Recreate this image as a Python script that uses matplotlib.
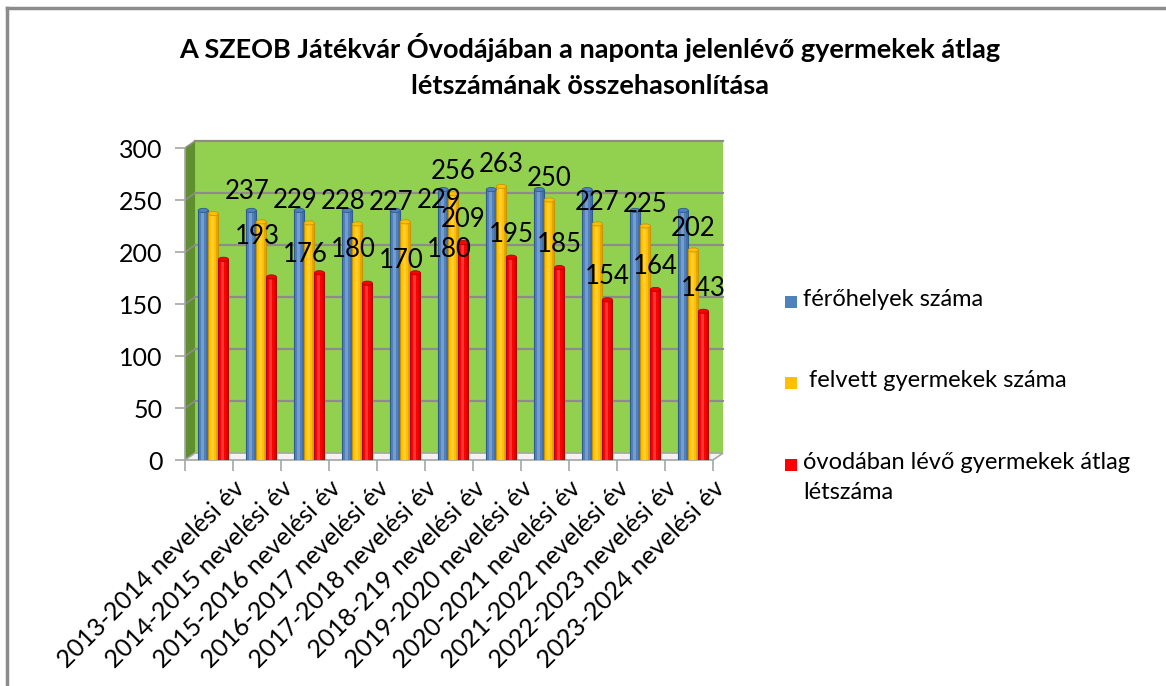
import numpy as np
import matplotlib
matplotlib.use('Agg')
import matplotlib.pyplot as plt
from matplotlib.patches import Rectangle, Polygon, Ellipse
from matplotlib.lines import Line2D
from matplotlib.transforms import ScaledTranslation

plt.rcParams['font.family'] = ['Lato', 'DejaVu Sans']

categories = ['2013-2014 nevelési év', '2014-2015 nevelési év', '2015-2016 nevelési év',
              '2016-2017 nevelési év', '2017-2018 nevelési év', '2018-219 nevelési év',
              '2019-2020 nevelési év', '2020-2021 nevelési év', '2021-2022 nevelési év',
              '2022-2023 nevelési év', '2023-2024 nevelési év']
ferohelyek = [240, 240, 240, 240, 240, 260, 260, 260, 260, 240, 240]
felvett = [237, 229, 228, 227, 229, 256, 263, 250, 227, 225, 202]
atlag = [193, 176, 180, 170, 180, 209, 195, 185, 154, 164, 143]
series_names = ['férőhelyek száma', ' felvett gyermekek száma',
                'óvodában lévő gyermekek átlag\nlétszáma']
yticks = [0, 50, 100, 150, 200, 250, 300]

title = 'A SZEOB Játékvár Óvodájában a naponta jelenlévő gyermekek átlag\nlétszámának összehasonlítása'

colors = ['#4F81BD', '#FFC000', '#FF0000']
edges = ['#2F5A8C', '#C99400', '#B00000']
offsets = [-0.12, 0.09, 0.30]
bw = 0.21
# excel put the labels of the first five groups further right
label_shift = [0.7] * 5 + [0.0] * 6

W, H = 1166, 686
fig = plt.figure(figsize=(W / 100, H / 100), dpi=100)
ax = fig.add_axes([185 / W, 1 - 460 / H, 528 / W, 312 / H])
ax.set_facecolor('none')
ax.set_xlim(-0.5, 10.5)
ax.set_ylim(0, 300)

# fake 3d box: back wall, left wall, floor
ox, oy = 0.21, 6.7
n = len(categories)
ax.add_patch(Rectangle((-0.5 + ox, oy), n, 300, facecolor='#92D050', edgecolor='none',
                       zorder=0, clip_on=False))
ax.add_patch(Polygon([(-0.5, 0), (-0.5, 300), (-0.5 + ox, 300 + oy), (-0.5 + ox, oy)],
                     closed=True, facecolor='#5F8F2E', edgecolor='none', zorder=0.5, clip_on=False))
ax.add_patch(Polygon([(-0.5, 0), (n - 0.5, 0), (n - 0.5 + ox, oy), (-0.5 + ox, oy)],
                     closed=True, facecolor='#F2F2F2', edgecolor='#A6A6A6', lw=1.2,
                     zorder=0.5, clip_on=False))
for v in yticks[1:]:
    ax.plot([-0.5 + ox, n - 0.5 + ox], [v + oy, v + oy], color='#8C8C8C', lw=1.6,
            zorder=0.6, clip_on=False)
    ax.plot([-0.5, -0.5 + ox], [v, v + oy], color='#8C8C8C', lw=1.2, zorder=0.6, clip_on=False)

x = np.arange(n)
for k, vals in enumerate([ferohelyek, felvett, atlag]):
    xs = x + offsets[k]
    ax.bar(xs, vals, width=bw, color=colors[k], edgecolor=edges[k], lw=0.8, zorder=2)
    # cylinder look
    ax.bar(xs - bw * 0.12, vals, width=bw * 0.3, color='white', alpha=0.22, lw=0, zorder=2.1)
    ax.bar(xs + bw * 0.36, vals, width=bw * 0.22, color='black', alpha=0.12, lw=0, zorder=2.1)
    for xi, v in zip(xs, vals):
        ax.add_patch(Ellipse((xi, v), bw, 4, facecolor=colors[k], edgecolor=edges[k],
                             lw=0.6, zorder=2.2, clip_on=False))

for i in range(n):
    ax.text(x[i] + offsets[1] + label_shift[i], felvett[i] + 21, str(felvett[i]),
            ha='center', va='center', fontsize=18.5, zorder=3)
    ax.text(x[i] + offsets[2] + label_shift[i], atlag[i] + 22, str(atlag[i]),
            ha='center', va='center', fontsize=18.5, zorder=3)

for s in ['top', 'right', 'bottom']:
    ax.spines[s].set_visible(False)
ax.spines['left'].set_color('#A6A6A6')
ax.spines['left'].set_linewidth(1.2)

ax.set_yticks(yticks)
ax.tick_params(axis='y', length=7, width=1.2, color='#A6A6A6', labelsize=18, pad=9)
ax.set_xticks(x)
ax.set_xticklabels(categories, rotation=45, ha='right', rotation_mode='anchor', fontsize=18)
ax.tick_params(axis='x', length=0, pad=12)
ax.set_xticks(np.arange(-0.5, n, 1.0), minor=True)
ax.tick_params(axis='x', which='minor', length=8, width=1.2, color='#A6A6A6')
shift = ScaledTranslation(0.24, 0, fig.dpi_scale_trans)
for lab in ax.get_xticklabels():
    lab.set_transform(lab.get_transform() + shift)

# legend drawn by hand to get excel's spacing
leg_y = [302, 383, 465]
for c, name, yy in zip(colors, series_names, leg_y):
    fig.add_artist(Rectangle((785 / W, 1 - (yy + 6) / H), 12 / W, 12 / H, facecolor=c,
                             edgecolor='none', transform=fig.transFigure))
    fig.text(803 / W, 1 - (yy - 13) / H, name, ha='left', va='top', fontsize=17,
             linespacing=1.55)

fig.text(590 / W, 1 - 66 / H, title, ha='center', va='center', fontsize=19.5,
         fontweight='bold', linespacing=1.6)

fig.add_artist(Line2D([7 / W, 1], [1 - 8 / H, 1 - 8 / H], color='#8C8C8C', lw=2.5,
                      transform=fig.transFigure))
fig.add_artist(Line2D([7 / W, 7 / W], [0, 1 - 8 / H], color='#8C8C8C', lw=2.5,
                      transform=fig.transFigure))

fig.savefig('out.png', dpi=100, facecolor='white')
